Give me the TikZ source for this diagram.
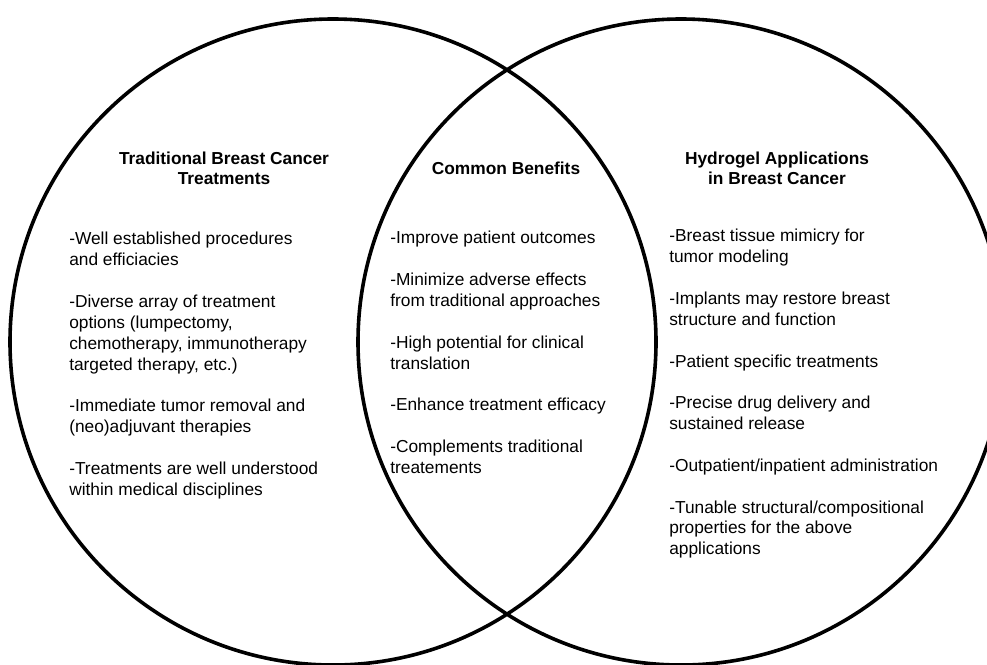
\documentclass[tikz,border=0pt]{standalone}
\usepackage{fontspec}
\setmainfont{Liberation Sans}
\begin{document}
\begin{tikzpicture}[x=0.75pt, y=-0.75pt, line join=round, line cap=round,
	font=\fontsize{13}{15.65}\selectfont,
	head/.style={font=\fontsize{13}{15}\selectfont\bfseries, align=center},
	list/.style={align=left, anchor=north west, inner sep=0pt}]
		\def\rad{242.25pt} \def\gap{15.65pt}
		\useasboundingbox (0,0) rectangle (987,664);
		\clip (0,0) rectangle (987,664);
		\draw[line width=2.7pt] (333,342) circle[radius=\rad] (681,342) circle[radius=\rad];
		% headings
		\node[head] (trad) at (224,168) {Traditional Breast Cancer\\Treatments};
		\node[head] (common) at (506,168) {Common Benefits};
		\node[head] (hydro) at (777,168) {Hydrogel Applications\\in Breast Cancer};
		% lists
		\node[list] (tradlist) at (69,232) {-Well established procedures\\and efficiacies\\[\gap]
			-Diverse array of treatment\\options (lumpectomy,\\chemotherapy, immunotherapy\\targeted therapy, etc.)\\[\gap]
			-Immediate tumor removal and\\(neo)adjuvant therapies\\[\gap]
			-Treatments are well understood\\within medical disciplines};
		\node[list] (commonlist) at (390,231) {-Improve patient outcomes\\[\gap]
			-Minimize adverse effects\\from traditional approaches\\[\gap]
			-High potential for clinical\\translation\\[\gap]
			-Enhance treatment efficacy\\[\gap]
			-Complements traditional\\treatements};
		\node[list] (hydrolist) at (669,229) {-Breast tissue mimicry for\\tumor modeling\\[\gap]
			-Implants may restore breast\\structure and function\\[\gap]
			-Patient specific treatments\\[\gap]
			-Precise drug delivery and\\sustained release\\[\gap]
			-Outpatient/inpatient administration\\[\gap]
			-Tunable structural/compositional\\properties for the above\\applications};
	\end{tikzpicture}
\end{document}
